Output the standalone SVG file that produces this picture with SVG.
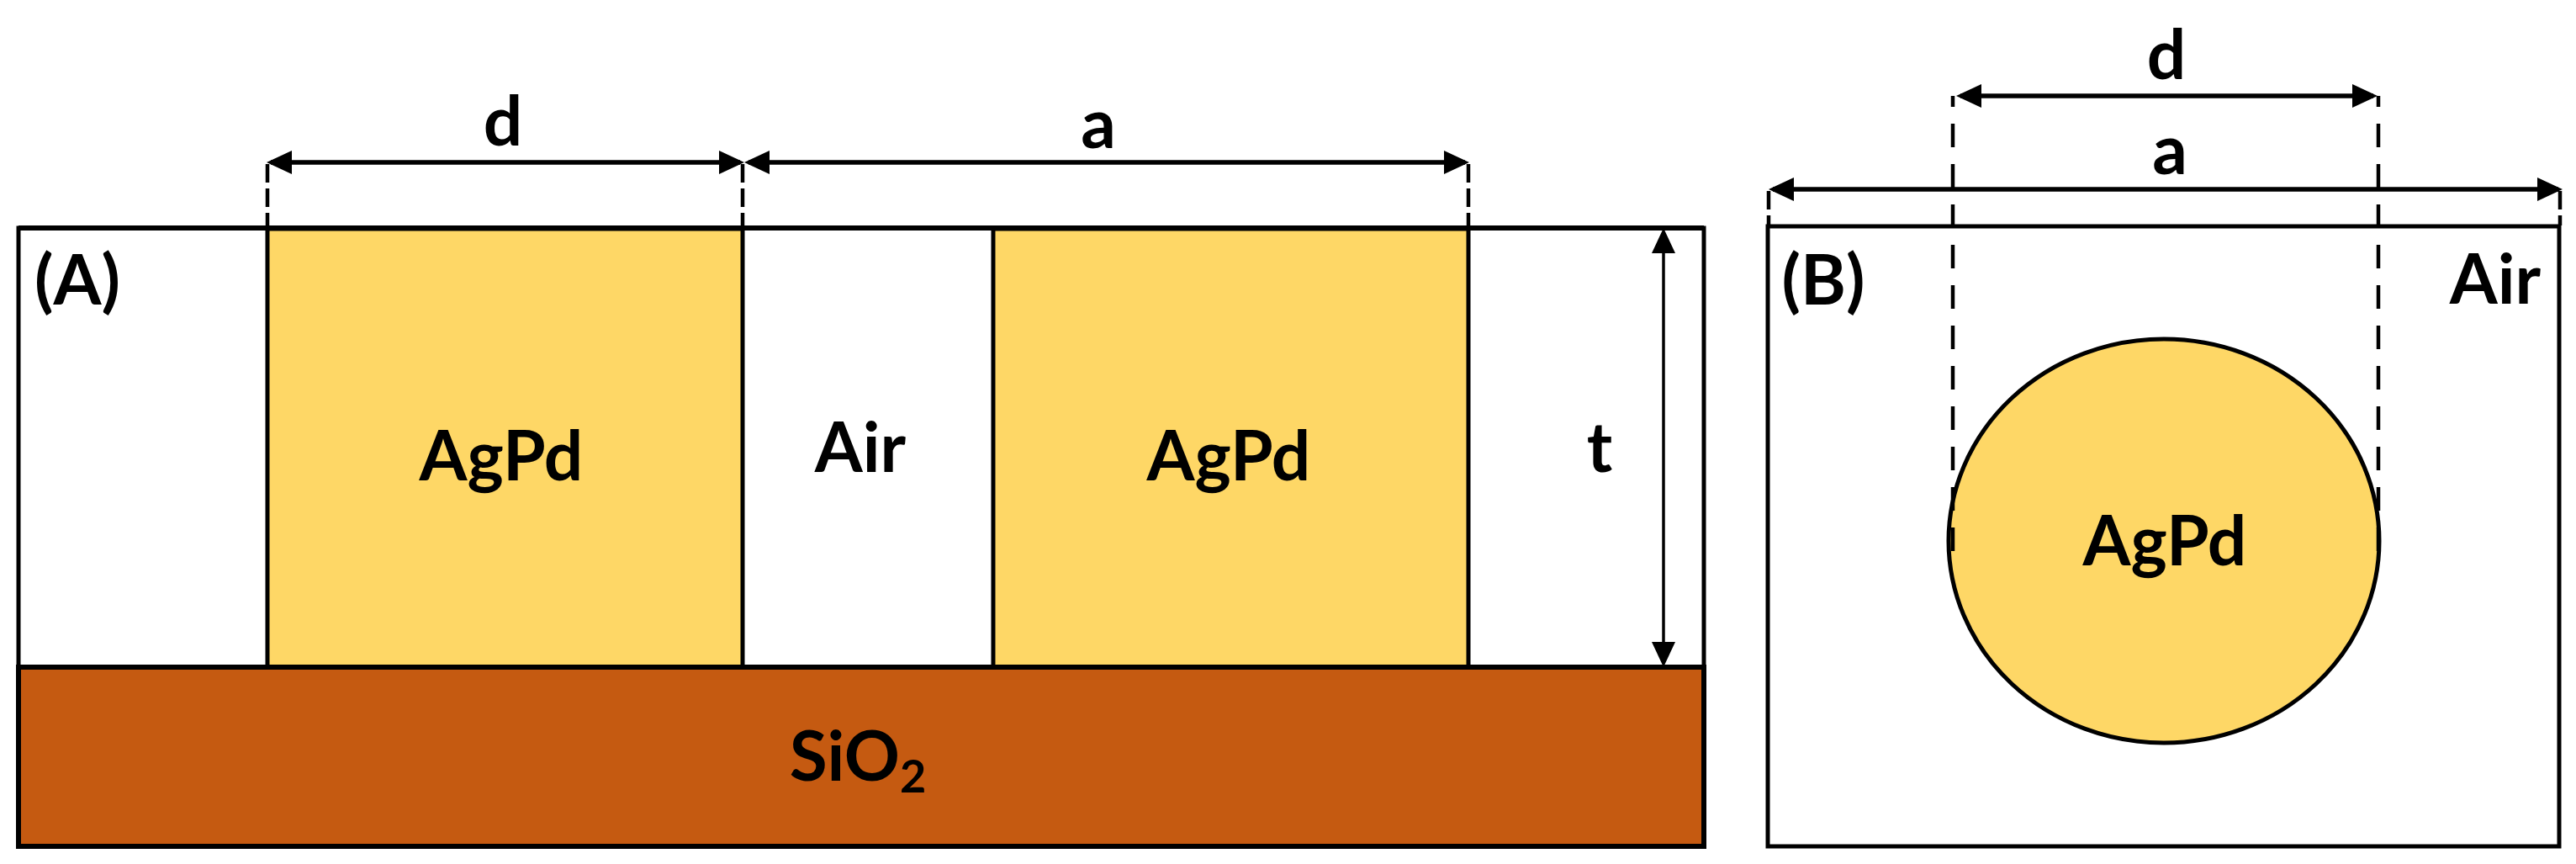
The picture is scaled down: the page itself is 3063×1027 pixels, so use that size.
<svg xmlns="http://www.w3.org/2000/svg" width="3063" height="1027" viewBox="0 0 3063 1027">
<style>
text{font-family:"Lato","Liberation Sans",sans-serif;font-weight:700;font-size:82px;fill:#000;text-anchor:middle}
.y{fill:#fed766;stroke:#000;stroke-width:5}
.dash{fill:none;stroke:#000;stroke-width:4.5;stroke-dasharray:28 20;stroke-dashoffset:15}
.dash2{fill:none;stroke:#000;stroke-width:4.5;stroke-dasharray:22 7}
.arr{fill:none;stroke:#000;stroke-width:5.5;marker-start:url(#h);marker-end:url(#h)}
.thin{stroke-width:3.5}
</style>
<defs>
<marker id="h" viewBox="0 0 30 28" refX="25" refY="14" markerWidth="30" markerHeight="28" markerUnits="userSpaceOnUse" orient="auto-start-reverse"><path d="M0 0L30 14L0 28Z" fill="#000"/></marker>
</defs>
<rect width="3063" height="1027" fill="#fff"/>
<g id="panel-a">
<rect x="22" y="271" width="2004" height="522" fill="#fff" stroke="#000" stroke-width="5"/>
<g id="a-pillar-1"><rect class="y" x="318" y="272" width="565" height="521"/><text x="596" y="571">AgPd</text></g>
<g id="a-pillar-2"><rect class="y" x="1181" y="272" width="565" height="521"/><text x="1461" y="571">AgPd</text></g>
<g id="a-air"><text x="1023" y="561">Air</text></g>
<g id="a-sio2"><rect x="22" y="793" width="2004" height="213" fill="#c55a11" stroke="#000" stroke-width="6"/><text x="1020" y="928">SiO<tspan font-size="54" dy="14">2</tspan></text></g>
<line x1="22" x2="2026" y1="271" y2="271" stroke="#000" stroke-width="6"/>
<text id="a-label" x="92" y="362">(A)</text>
</g>
<g id="panel-b">
<rect x="2102" y="269" width="941" height="737" fill="#fff" stroke="#000" stroke-width="5"/>
<g id="b-disc"><ellipse cx="2573" cy="643" rx="256" ry="240" fill="#fed766" stroke="#000" stroke-width="5"/><text x="2574" y="672">AgPd</text></g>
<text id="b-label" x="2168" y="362">(B)</text>
<text id="b-air" x="2967" y="361">Air</text>
</g>
<g id="connectors">
<path class="dash2" d="M318 195V270M883 195V270M1746 195V270M2103 227V268M3044 227V268"/>
<path class="dash" d="M2322 114V655M2828 114V657"/>
<path class="arr" d="M322 193H880"/>
<path class="arr" d="M890 193H1742"/>
<path class="arr thin" d="M1978 276V788"/>
<path class="arr" d="M2331 114H2822"/>
<path class="arr" d="M2108 225H3042"/>
</g>
<g id="dim-labels">
<text x="598" y="173">d</text><text x="1306" y="176">a</text><text x="1902" y="561">t</text>
<text x="2576" y="94">d</text><text x="2580" y="207">a</text>
</g>
</svg>
